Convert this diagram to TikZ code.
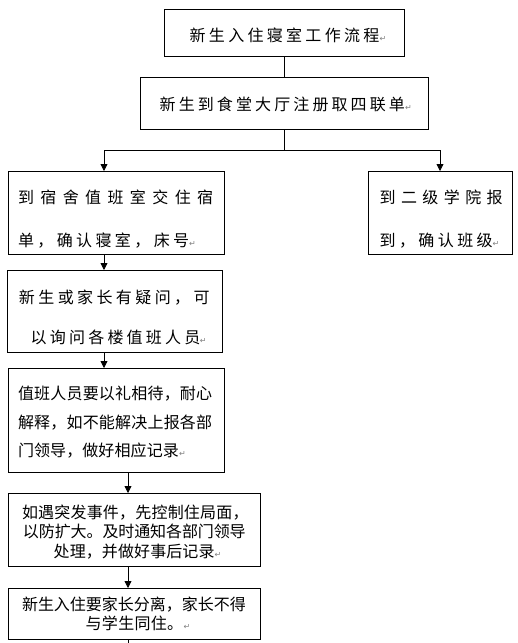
\documentclass[tikz,border=0pt]{standalone}
\usepackage{fontspec}
\setmainfont{Noto Sans CJK SC}
\newfontfamily\symf{DejaVu Sans}
\usetikzlibrary{arrows.meta}
\makeatletter
\newcommand\spaced[2]{\rule[-0.12em]{0pt}{1em}\@tfor\cc:=#2\do{\makebox[#1pt][l]{\cc}}}
\makeatother
\newcommand\pmk[1]{\kern-#1pt{\symf\fontsize{8}{8}\selectfont\color{gray}↵}}
\tikzset{
  box/.style={draw, line width=0.8pt, inner sep=0pt, anchor=north west},
  txt/.style={inner sep=0pt, anchor=west, font=\fontsize{16}{16}\selectfont},
  arr/.style={line width=0.8pt, -{Triangle[length=7pt,width=7pt]}},
  ln/.style={line width=0.8pt}
}
\begin{document}
\begin{tikzpicture}[x=1pt,y=-1pt]
\useasboundingbox (0,0) rectangle (518,643);
% boxes
\node[box, minimum width=240pt, minimum height=47pt] (b1) at (164,9) {};
\node[box, minimum width=288pt, minimum height=52pt] (b2) at (140,77) {};
\node[box, minimum width=216pt, minimum height=83pt] (b3) at (8,171) {};
\node[box, minimum width=144pt, minimum height=83pt] (bR) at (368,171) {};
\node[box, minimum width=215pt, minimum height=82pt] (b4) at (7,270) {};
\node[box, minimum width=216pt, minimum height=104pt] (b5) at (8,368) {};
\node[box, minimum width=252pt, minimum height=73pt] (b6) at (8,493) {};
\node[box, minimum width=252pt, minimum height=51pt] (b7) at (8,588) {};
% texts
\node[txt] (t1) at (189.5,35) {\spaced{19.3}{新生入住寝室工作流程}\pmk{3}};
\node[txt] (t2) at (159.5,104) {\spaced{19.1}{新生到食堂大厅注册取四联单}\pmk{3}};
\node[txt] (t3a) at (17.8,197) {\spaced{22.4}{到宿舍值班室交住宿}};
\node[txt] (t3b) at (17.8,240) {\spaced{19.4}{单，确认寝室，床号}\pmk{3.5}};
\node[txt] (tRa) at (379.5,197) {\spaced{21.4}{到二级学院报}};
\node[txt] (tRb) at (379.5,240) {\spaced{19.4}{到，确认班级}\pmk{3.5}};
\node[txt] (t4a) at (18.8,297) {\spaced{19.4}{新生或家长有疑问，可}};
\node[txt] (t4b) at (30.5,337) {\spaced{19.2}{以询问各楼值班人员}\pmk{3.5}};
\node[txt] (t5a) at (17.8,393) {\spaced{16.2}{值班人员要以礼相待，耐心}};
\node[txt] (t5b) at (17.8,422) {\spaced{16.2}{解释，如不能解决上报各部}};
\node[txt] (t5c) at (17.8,450) {\spaced{16.1}{门领导，做好相应记录}\pmk{0}};
\node[txt] (t6a) at (21.8,512) {\spaced{16.2}{如遇突发事件，先控制住局面，}};
\node[txt] (t6b) at (22.8,531) {\spaced{15.9}{以防扩大。及时通知各部门领导}};
\node[txt] (t6c) at (53.5,551) {\spaced{16.1}{处理，并做好事后记录}\pmk{0}};
\node[txt] (t7a) at (21.8,604) {\spaced{16}{新生入住要家长分离，家长不得}};
\node[txt] (t7b) at (85.5,623) {\spaced{16.3}{与学生同住。}\pmk{0}};
% connectors
\coordinate (ja) at (104,150);
\coordinate (jb) at (440,150);
\coordinate (jx) at (128,0);
\coordinate (fin) at (128,643);
\draw[ln] (b1.south) -- (b2.north);
\draw[ln] (b2.south) -- (b2.south |- ja);
\draw[ln] (ja) -- (jb);
\draw[arr] (ja) -- (ja |- b3.north);
\draw[arr] (jb) -- (jb |- bR.north);
\draw[arr] (b3.south -| ja) -- (b4.north -| ja);
\draw[arr] (b4.south -| ja) -- (b5.north -| ja);
\draw[arr] (b5.south -| jx) -- (b6.north -| jx);
\draw[arr] (b6.south -| jx) -- (b7.north -| jx);
\draw[ln] (b7.south -| jx) -- (fin);
\end{tikzpicture}
\end{document}
